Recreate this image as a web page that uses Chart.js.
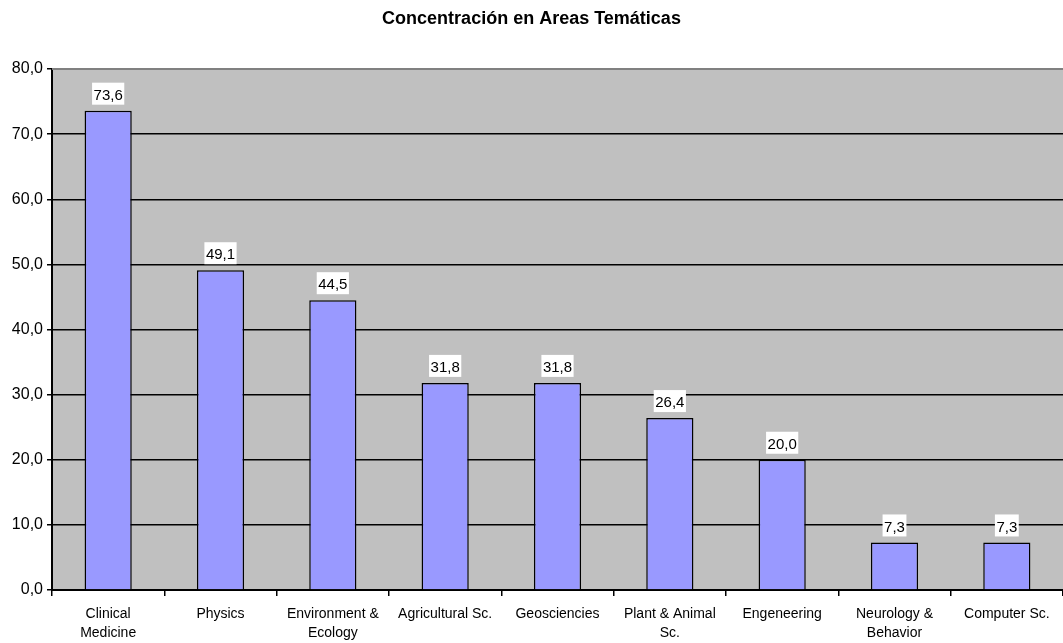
<!DOCTYPE html>
<html>
<head>
<meta charset="utf-8">
<script src="https://cdn.jsdelivr.net/npm/chart.js@4/dist/chart.umd.min.js"></script>
<style>
  html, body { margin: 0; padding: 0; background: #fff; }
  #wrap { width: 1063px; height: 643px; }
</style>
</head>
<body>
<div id="wrap"><canvas id="graf" width="1063" height="643"></canvas></div>
<script>
// Données
const areas = [
    ["Clinical", "Medicine"],
    "Physics",
    ["Environment &", "Ecology"],
    "Agricultural Sc.",
    "Geosciencies",
    ["Plant & Animal", "Sc."],
    "Engeneering",
    ["Neurology &", "Behavior"],
    "Computer Sc."
];
const valores = [73.6, 49.1, 44.5, 31.8, 31.8, 26.4, 20.0, 7.3, 7.3];
const yMin = 0;
const yMax = 80;
const yPaso = 10;

const police = "'Liberation Sans', Arial, sans-serif";
const fmt = v => v.toFixed(1).replace(".", ",");

// Fond gris de la zone de tracé + étiquettes blanches
const fondPlot = {
    id: "fondPlot",
    beforeDraw(chart) {
        const { ctx, chartArea: a } = chart;
        ctx.save();
        ctx.fillStyle = "#c0c0c0";
        ctx.fillRect(a.left, a.top, a.right - a.left, a.bottom - a.top);
        ctx.restore();
    },
    afterDatasetsDraw(chart) {
        const { ctx } = chart;
        const meta = chart.getDatasetMeta(0);
        ctx.save();
        ctx.font = "15px " + police;
        ctx.textAlign = "center";
        ctx.textBaseline = "middle";
        meta.data.forEach((bar, i) => {
            const txt = fmt(valores[i]);
            const w = ctx.measureText(txt).width + 3;
            const h = 22;
            const cy = bar.y - 6 - h / 2;
            ctx.fillStyle = "#fff";
            ctx.fillRect(bar.x - w / 2, cy - h / 2, w, h);
            ctx.fillStyle = "#000";
            ctx.fillText(txt, bar.x, cy + 2);
        });
        ctx.restore();
    },
    afterDraw(chart) {
        const { ctx, chartArea: a } = chart;
        ctx.save();
        ctx.strokeStyle = "#808080";
        ctx.lineWidth = 2;
        ctx.beginPath();
        ctx.moveTo(a.left, a.top);
        ctx.lineTo(a.right, a.top);
        ctx.stroke();
        ctx.restore();
    }
};

new Chart(document.getElementById("graf"), {
    type: "bar",
    data: {
        labels: areas,
        datasets: [{
            data: valores,
            backgroundColor: "#9999ff",
            borderColor: "#000",
            borderWidth: 1.5,
            borderSkipped: "bottom",
            barPercentage: 0.42,
            categoryPercentage: 1
        }]
    },
    options: {
        responsive: false,
        animation: false,
        layout: { padding: 0 },
        plugins: {
            legend: { display: false },
            tooltip: { enabled: false },
            title: {
                display: true,
                text: "Concentración en Areas Temáticas",
                color: "#000",
                font: { family: police, size: 18, weight: "bold" },
                padding: { top: 8, bottom: 39.4 }
            }
        },
        scales: {
            x: {
                offset: true,
                grid: {
                    offset: true,
                    display: true,
                    drawOnChartArea: false,
                    drawTicks: true,
                    tickLength: 6,
                    color: "#000",
                    lineWidth: 1.5
                },
                border: { color: "#000", width: 2 },
                ticks: {
                    color: "#000",
                    font: { family: police, size: 14, lineHeight: 1.35 },
                    maxRotation: 0,
                    autoSkip: false,
                    padding: 9
                },
                afterFit(s) { s.height = 53; }
            },
            y: {
                min: yMin,
                max: yMax,
                grid: {
                    color: "#000",
                    lineWidth: 1.5,
                    drawTicks: true,
                    tickLength: 5
                },
                border: { color: "#000", width: 2 },
                ticks: {
                    stepSize: yPaso,
                    color: "#000",
                    padding: 4,
                    font: { family: police, size: 16 },
                    callback: v => fmt(v)
                },
                afterFit(s) { s.width = 52; }
            }
        }
    },
    plugins: [fondPlot]
});
</script>
</body>
</html>
